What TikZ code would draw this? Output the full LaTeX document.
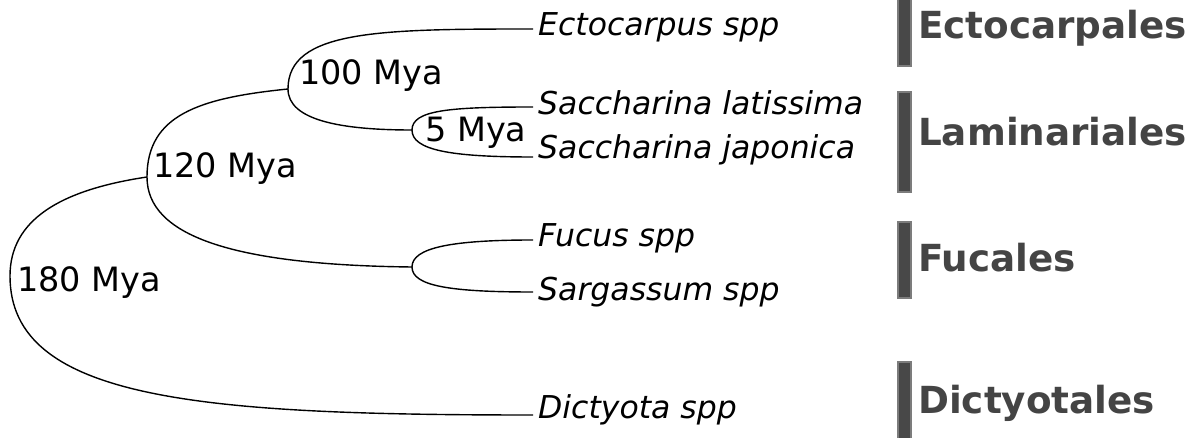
\documentclass[tikz,border=0pt]{standalone}
\usepackage{fontspec}
\setmainfont{DejaVu Sans}
\usepackage{tikz}
\usetikzlibrary{calc}
\usepackage{xcolor}
\definecolor{barfill}{HTML}{484848}
\definecolor{barrim}{HTML}{7C7C7C}
\definecolor{ordertext}{HTML}{444444}

\begin{document}
\begin{tikzpicture}[
  x=1pt, y=-1pt,
  br/.style={line width=1.4pt, black},
  leaf/.style={anchor=base west, inner sep=0pt, font=\fontsize{31.5}{37}\selectfont\itshape},
  age/.style={anchor=base west, inner sep=0pt, font=\fontsize{33.5}{40}\selectfont},
  order/.style={anchor=base west, inner sep=0pt, text=ordertext, font=\fontsize{37.3}{45}\selectfont\bfseries},
  bar/.style={fill=barfill, draw=barrim, line width=2pt}
]
\useasboundingbox (0,0) rectangle (1197,438);
% split points of the tree
\coordinate (r180) at (10,276);
\coordinate (n120) at (147,177);
\coordinate (n100) at (288,89);
\coordinate (n5) at (412,130);
\coordinate (nfuc) at (412,267);
% ends of the leaf lines
\coordinate (l1) at (533,29);
\coordinate (l2) at (533,107);
\coordinate (l3) at (533,157);
\coordinate (l4) at (533,240);
\coordinate (l5) at (533,292);
\coordinate (l6) at (533,415);
\foreach \a/\b/\ux/\uy/\vx/\vy in {r180/n120/0/-56/-87/13, r180/l6/0/124/-333/0,
  n120/n100/0/-62/-89/9, n120/nfuc/0/58/-182/-2,
  n100/l1/0/-59/-153/0, n100/n5/0/31/-72/0,
  n5/l2/0/-20/-83/0, n5/l3/0/20/-83/0,
  nfuc/l4/0/-19/-83/0, nfuc/l5/0/19/-83/0}
  \draw[br] (\a) .. controls ($(\a)+(\ux,\uy)$) and ($(\b)+(\vx,\vy)$) .. (\b);
% ages at the splits
\node[age] (a180) at (17,292) {180 Mya};
\node[age] (a120) at (153,178) {120 Mya};
\node[age] (a100) at (299,85) {100 Mya};
\node[age] (a5) at (425,142) {5 Mya};
% species
\node[leaf] (ecto) at (538,36) {Ectocarpus spp};
\node[leaf] (slat) at (538,115) {Saccharina latissima};
\node[leaf] (sjap) at (538,159) {Saccharina japonica};
\node[leaf] (fucus) at (538,247) {Fucus spp};
\node[leaf] (sarg) at (538,301) {Sargassum spp};
\node[leaf] (dict) at (538,418) {Dictyota spp};
% orders
\draw[bar] (898,-5) rectangle (911,66);
\draw[bar] (898,92) rectangle (911,192);
\draw[bar] (898,222) rectangle (911,298);
\draw[bar] (898,362) rectangle (911,445);
\node[order] (ectocarpales) at (918,39) {Ectocarpales};
\node[order] (laminariales) at (918,146) {Laminariales};
\node[order] (fucales) at (918,272) {Fucales};
\node[order] (dictyotales) at (918,413) {Dictyotales};
\end{tikzpicture}
\end{document}
